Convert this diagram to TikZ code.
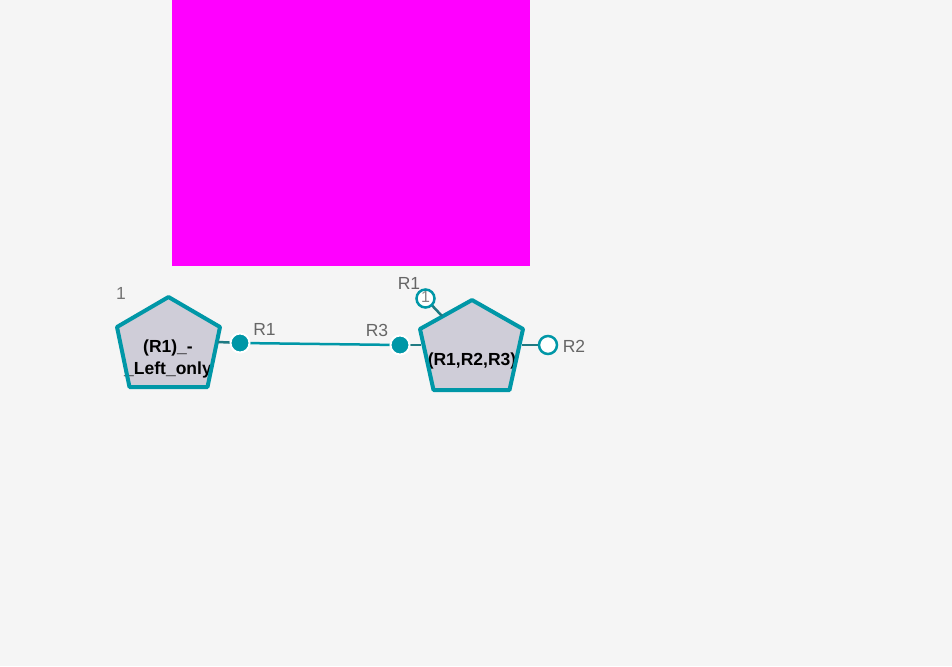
\documentclass[tikz,border=0pt]{standalone}
\usepackage{fontspec}
\setmainfont{Liberation Sans}
\definecolor{bg}{HTML}{F5F5F5}
\definecolor{teal}{HTML}{0097A7}
\definecolor{darkteal}{HTML}{1F7A82}
\definecolor{nodefill}{HTML}{CFCDD8}
\definecolor{lblgray}{HTML}{666666}
\definecolor{mag}{HTML}{FF00FF}
\tikzset{
  pent/.style={draw=teal, line width=4pt, line join=round, fill=nodefill},
  ntext/.style={font=\fontsize{17.5}{22}\selectfont\bfseries, align=center, inner sep=0pt, text=black},
  plabel/.style={font=\fontsize{17.5}{19}\selectfont, text=lblgray, inner sep=0pt},
  portfilled/.style={circle, fill=teal, draw=white, line width=2pt, minimum size=19pt, inner sep=0pt},
  portopen/.style={circle, fill=white, draw=teal, line width=2.5pt, minimum size=18pt, inner sep=0pt},
  portline/.style={draw=darkteal, line width=2.5pt},
  link/.style={draw=teal, line width=2.5pt},
}
\begin{document}
\begin{tikzpicture}[x=1pt, y=-1pt]
\fill[bg] (0,0) rectangle (952,666);
\useasboundingbox (0,0) rectangle (952,666);
\fill[mag] (172,0) rectangle (530,266);

% pentagon 1
\coordinate (p1t) at (168.5,297);
\coordinate (p1l) at (117,327);
\coordinate (p1r) at (220,327);
\coordinate (p1bl) at (129.5,387);
\coordinate (p1br) at (207.5,387);
\fill[nodefill] (p1t) -- (p1r) -- (p1br) -- (p1bl) -- (p1l) -- cycle;
\node[ntext] (n1) at (168,358.5) {(R1)\_-\\\_Left\_only};
\draw[pent, fill=none] (p1t) -- (p1r) -- (p1br) -- (p1bl) -- (p1l) -- cycle;
\node[plabel, text=lblgray!90] (idx1) at (121,293.5) {1};

% pentagon 2
\coordinate (p2t) at (472,300);
\coordinate (p2l) at (420,329);
\coordinate (p2r) at (523,329);
\coordinate (p2bl) at (433.5,390);
\coordinate (p2br) at (509.5,390);
\fill[nodefill] (p2t) -- (p2r) -- (p2br) -- (p2bl) -- (p2l) -- cycle;
\node[ntext] (n2) at (472,361) {(R1,R2,R3)};
\draw[pent, fill=none] (p2t) -- (p2r) -- (p2br) -- (p2bl) -- (p2l) -- cycle;

% link (drawn under the port circles)
\coordinate (c1) at (240,343);
\coordinate (c3) at (400,345);
\draw[link] (c1) -- (c3);

% ports of node 1
\coordinate (a1) at (218,342);
\draw[portline] (a1) -- (c1);
\node[portfilled] (q1) at (c1) {};
\node[plabel] (lq1) at (264.5,329) {R1};

% ports of node 2
\coordinate (a3) at (421,345);
\draw[portline] (c3) -- (a3);
\node[portfilled] (q3) at (c3) {};
\node[plabel] (lq3) at (377,330) {R3};

\coordinate (a2) at (522,345);
\coordinate (c2) at (548,345);
\draw[portline] (a2) -- (c2);
\node[portopen] (q2) at (c2) {};
\node[plabel] (lq2) at (574,346.5) {R2};

\coordinate (atop) at (442,316);
\coordinate (ct) at (425.5,298.5);
\draw[portline] (ct) -- (atop);
\node[portopen] (qt) at (ct) {};
\node[plabel] (lqt) at (409,283) {R1};
\node[plabel, font=\fontsize{16}{18}\selectfont, text=lblgray!80] (idx2) at (425.5,297) {1};
\end{tikzpicture}
\end{document}
